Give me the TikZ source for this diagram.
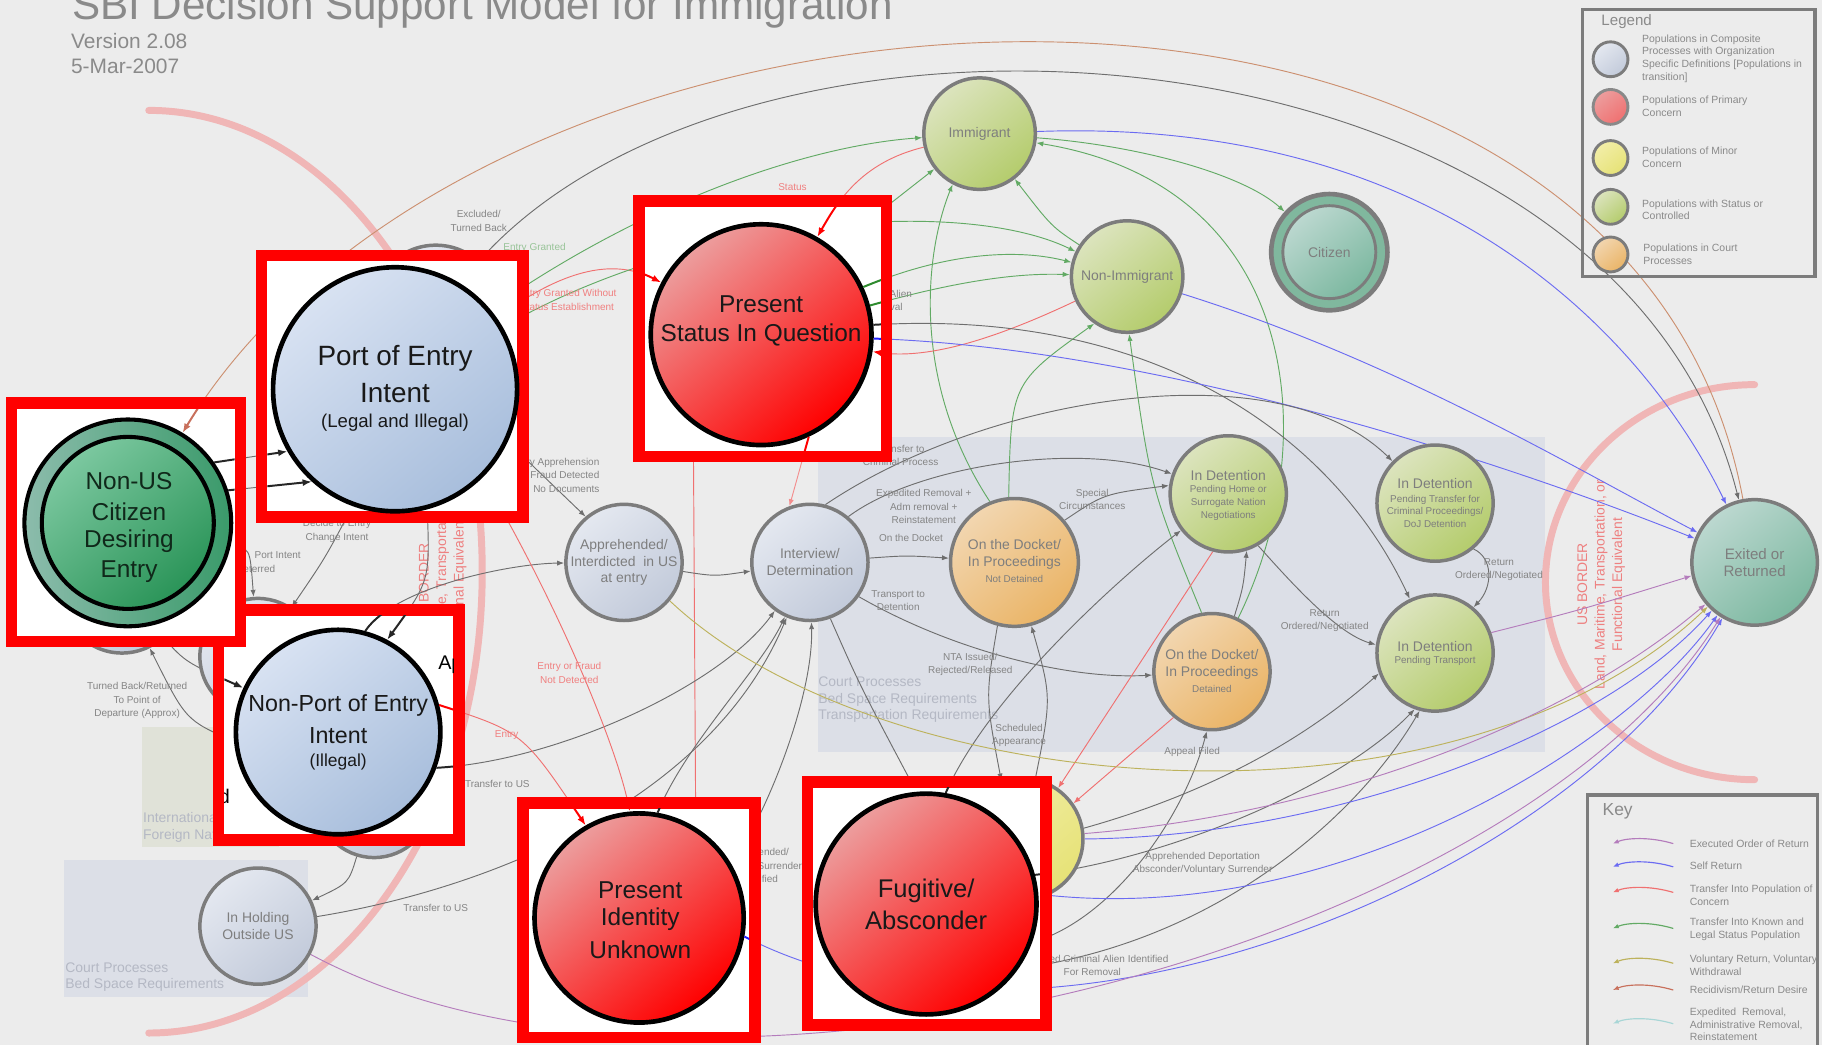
\documentclass[tikz,border=0pt]{standalone}
\usepackage{fontspec}
\setmainfont{Liberation Sans}
\usetikzlibrary{arrows.meta}
\pgfdeclarelayer{back}
\pgfdeclarelayer{bg}
\pgfdeclarelayer{fg}
\pgfsetlayers{back,bg,main,fg}
\definecolor{bgc}{HTML}{ECECEC}
\definecolor{courtf}{HTML}{DCDFE7}
\definecolor{intlf}{HTML}{E0E2D8}
\definecolor{courtt}{HTML}{B4B8C4}
\definecolor{bordc}{HTML}{F0B6B6}
\definecolor{bordt}{HTML}{EE8080}
\definecolor{ngrey}{HTML}{7C7C7C}
\definecolor{ntext}{HTML}{7E7E7E}
\definecolor{labgrey}{HTML}{858585}
\definecolor{lgrey}{HTML}{6E6E6E}
\definecolor{cblue}{HTML}{6B6BF2}
\definecolor{cgreen}{HTML}{62AA64}
\definecolor{cred}{HTML}{F07070}
\definecolor{cpurple}{HTML}{B47CBC}
\definecolor{colive}{HTML}{BDB25C}
\definecolor{cbrown}{HTML}{CC9070}
\definecolor{cbrownred}{HTML}{C8705C}
\definecolor{cteal}{HTML}{A8D6D6}
\definecolor{redlab}{HTML}{F08080}
\definecolor{greenlab}{HTML}{98C498}
\definecolor{titlec}{HTML}{8A8A8A}
\definecolor{compA}{HTML}{E4E8F0}
\definecolor{compB}{HTML}{C2CADA}
\definecolor{grnA}{HTML}{DCE4BE}
\definecolor{grnB}{HTML}{B4CC6C}
\definecolor{orA}{HTML}{F2D6B0}
\definecolor{orB}{HTML}{EAB466}
\definecolor{yeA}{HTML}{F2EEA8}
\definecolor{yeB}{HTML}{E6E276}
\definecolor{teA}{HTML}{BCD8D0}
\definecolor{teB}{HTML}{7CB8A0}
\definecolor{citring}{HTML}{80B89E}
\definecolor{rdA}{HTML}{EC9E9E}
\definecolor{rdM}{HTML}{F65050}
\definecolor{blA}{HTML}{D8E2F2}
\definecolor{blB}{HTML}{A8BEDC}
\definecolor{nuA}{HTML}{7CC8A0}
\definecolor{nuB}{HTML}{2A9458}
\definecolor{nuring}{HTML}{3A9A6A}
\definecolor{nuringA}{HTML}{8CBCAC}
\definecolor{nutext}{HTML}{10281A}
\definecolor{legt}{HTML}{8A8A8A}
\definecolor{dgreen}{HTML}{2E8B2E}
\definecolor{dblue}{HTML}{2020FF}

\def\pthA{(exit) .. controls (1400,-110) and (420,-60) .. (nonus)}
\def\pthB{(imm) .. controls (740,140) and (720,175) .. (pstat)}
\def\pthC{(pstat.50) .. controls (760,180) .. (imm)}
\def\pthD{(pstat.25) .. controls (820,215) and (880,215) .. (nonimm)}
\def\pthDD{(pstat.15) .. controls (830,240) and (880,235) .. (nonimm)}
\def\pthE{(nonimm) .. controls (860,290) and (800,310) .. (pstat)}
\def\pthF{(pstat.5) .. controls (1000,265) and (1150,380) .. (dtrans)}
\def\pthG{(pstat) .. controls (1000,300) and (1300,400) .. (exit)}
\def\pthH{(pstat.-65) -- (intv.110)}
\def\pthI{(pid.58) -- (pstat.233)}
\def\pthJ{(poe.35) .. controls (500,220) and (540,228) .. (pstat)}
\def\pthK{(poe.40) .. controls (560,170) and (700,125) .. (imm)}
\def\pthL{(poe.30) .. controls (600,185) and (830,170) .. (nonimm)}
\def\pthM{(poe.-25) -- (appr.130)}
\def\pthN{(nonus.35) -- (poe.210)}
\def\pthNN{(nonus.18) -- (poe.228)}
\def\pthO{(nonus.-15) .. controls (215,470) .. (hid2)}
\def\pthP{(poe.-110) .. controls (280,480) .. (hid2)}
\def\pthQ{(npoe.75) .. controls (340,505) and (440,485) .. (appr)}
\def\pthR{(npoe.-20) .. controls (480,655) and (620,590) .. (intv)}
\def\pthT{(pid.80) .. controls (590,640) and (655,575) .. (intv)}
\def\pthU{(pid.30) .. controls (660,700) and (700,600) .. (intv)}
\def\pthV{(intv.-70) .. controls (740,590) .. (fug.95)}
\def\pthW{(fug.80) .. controls (850,600) and (960,500) .. (dhome)}
\def\pthX{(fug.-20) .. controls (960,790) and (1020,700) .. (dockd.-95)}
\def\pthY{(fug.15) .. controls (1000,740) and (1150,680) .. (dtrans.-110)}
\def\pthZ{(fug.-35) .. controls (1050,810) and (1170,700) .. (dtrans.-105)}
\def\pthBa{(fug.5) .. controls (1150,800) and (1400,640) .. (exit)}
\def\pthBb{(pid.-10) .. controls (900,940) and (1350,760) .. (exit)}
\def\pthBc{(npoe.15) .. controls (450,630) .. (pid.120)}
\def\pthBd{(poe.-45) .. controls (480,520) and (530,640) .. (pid.95)}
\def\pthBe{(npoe.185) .. controls (160,620) .. (hid3)}
\def\pthBf{(hid3) .. controls (160,570) .. (npoe.155)}
\def\pthBg{(poe.-75) .. controls (370,500) .. (npoe.62)}

\begin{document}
\begin{tikzpicture}[x=1pt,y=-1pt,
  fsz/.style 2 args={font=\fontsize{#1}{#2}\selectfont},
  conn/.style={line width=0.8pt},
  arr/.style={-{Latex[length=6pt,width=4.5pt]}},
  stb/.style={line width=1.7pt,-{Latex[length=8pt,width=6pt]}},
  compn/.style={circle, draw=ngrey, line width=3pt, inner sep=0pt, top color=compA, bottom color=compB, shading angle=40},
  greenn/.style={circle, draw=ngrey, line width=3pt, inner sep=0pt, top color=grnA, bottom color=grnB, shading angle=40},
  orangen/.style={circle, draw=ngrey, line width=3pt, inner sep=0pt, top color=orA, bottom color=orB, shading angle=40},
  yellown/.style={circle, draw=ngrey, line width=3pt, inner sep=0pt, top color=yeA, bottom color=yeB, shading angle=40},
  tealn/.style={circle, draw=ngrey, line width=3pt, inner sep=0pt, top color=teA, bottom color=teB, shading angle=40},
  rbox/.style={draw=red, line width=10pt, fill=white},
  bcirc/.style={circle, draw=black, line width=4pt, inner sep=0pt},
  redfill/.style={top color=rdA, middle color=rdM, bottom color=red, shading angle=40},
  bluefill/.style={top color=blA, bottom color=blB, shading angle=40},
  ntxt/.style={text=ntext, align=center, inner sep=0pt, fsz={12}{14.5}},
  nsmall/.style={text=ntext, align=center, inner sep=0pt, fsz={8.5}{11}},
  elabel/.style={text=labgrey, align=center, inner sep=0pt, fsz={8.6}{11.5}},
  btxt/.style={text=black!90, inner sep=0pt},
  courttxt/.style={text=courtt, align=left, inner sep=0pt, fsz={12}{14.5}},
  bordarc/.style={draw=bordc, line width=6pt, line cap=round},
  bordtxt/.style={text=bordt, align=center, inner sep=0pt, fsz={12}{15}},
  legc/.style={circle, draw=ngrey!90, line width=2.5pt, inner sep=0pt, minimum size=30pt},
  legtxt/.style={text=legt, align=left, inner sep=0pt, fsz={9}{11}, anchor=west},
  keyarr/.style={line width=1pt,-{Latex[length=5pt,width=4pt]}}
]
\useasboundingbox (0,0) rectangle (1568,899.3);

% ---------------- background -----------------
\begin{pgfonlayer}{back}
\fill[bgc] (0,0) rectangle (1568,899.3);
\fill[courtf] (704,376) rectangle (1330,647);
\fill[courtf] (55,740) rectangle (265,858);
\fill[intlf] (122,626) rectangle (240,729);
\node[courttxt, anchor=north west] at (704,582) {Court Processes\\Bed Space Requirements\\Transportation Requirements};
\node[courttxt, anchor=north west] at (56,828) {Court Processes\\Bed Space Requirements};
\node[courttxt, anchor=north west] at (123,699) {International\\Foreign Nationals};
\draw[bordarc] (128,95) arc[start angle=-90,end angle=90,x radius=287,y radius=397];
\draw[bordarc] (1510,331) arc[start angle=-90,end angle=-270,x radius=180,y radius=170];
\node[bordtxt, rotate=90] at (1378,503) {US BORDER\\Land, Maritime, Transportation, or\\Functional Equivalent};
\node[bordtxt, rotate=90] at (381,503) {US BORDER\\Land, Maritime, Transportation, or\\Functional Equivalent};
\end{pgfonlayer}

% ---------------- title -----------------
\node[anchor=base west, inner sep=0, text=titlec, fsz={36.3}{40}] (title) at (62,17) {SBI Decision Support Model for Immigration};
\node[anchor=base west, inner sep=0, text=titlec, fsz={18}{20}] (ver) at (61,41.6) {Version 2.08};
\node[anchor=base west, inner sep=0, text=titlec, fsz={18}{20}] (date) at (61,63) {5-Mar-2007};

% ---------------- ordinary nodes -----------------
\node[greenn, minimum size=96pt] (imm) at (843,115) {};
\node[ntxt] at (imm) {Immigrant};
\node[greenn, minimum size=96pt] (nonimm) at (970,238) {};
\node[ntxt] at (nonimm) {Non-Immigrant};
\node[circle, draw=ngrey, line width=4pt, fill=citring, minimum size=100pt, inner sep=0pt] (cit) at (1144,217) {};
\node[tealn, line width=2.5pt, minimum size=80pt] (citin) at (cit) {};
\node[ntxt] at (cit) {Citizen};
\node[tealn, minimum size=108pt] (exit) at (1510,484) {};
\node[ntxt, fsz={13}{15}] at (exit) {Exited or\\Returned};
\node[compn, minimum size=100pt] (appr) at (537,484) {};
\node[ntxt] at (appr) {Apprehended/\\Interdicted~~in US\\at entry};
\node[compn, minimum size=100pt] (intv) at (697,484) {};
\node[ntxt] at (intv) {Interview/\\Determination};
\node[compn, minimum size=100pt] (hold) at (222,797) {};
\node[ntxt] at (hold) {In Holding\\Outside US};
\node[orangen, minimum size=110pt] (dockn) at (873,484) {};
\node[ntxt] at (873,477) {On the Docket/\\In Proceedings};
\node[nsmall] at (873,498) {Not Detained};
\node[greenn, minimum size=100pt] (dhome) at (1057,425) {};
\node[ntxt] at (1057,409) {In Detention};
\node[nsmall] at (1057,433) {Pending Home or\\Surrogate Nation\\Negotiations};
\node[greenn, minimum size=100pt] (dcrim) at (1235,433) {};
\node[ntxt] at (1235,416) {In Detention};
\node[nsmall] at (1235,440) {Pending Transfer for\\Criminal Proceedings/\\DoJ Detention};
\node[greenn, minimum size=100pt] (dtrans) at (1235,562) {};
\node[ntxt] at (1235,556) {In Detention};
\node[nsmall] at (1235,569) {Pending Transport};
\node[orangen, minimum size=100pt] (dockd) at (1043,578) {};
\node[ntxt] at (1043,572) {On the Docket/\\In Proceedings};
\node[nsmall] at (1043,593) {Detained};
\node[yellown, minimum size=104pt] (minor) at (880,722) {};
\node[compn, minimum size=110pt] (hid1) at (375,266) {};
\node[compn, minimum size=100pt] (hid2) at (222,565) {};
\node[compn, minimum size=104pt] (hid3) at (105,510) {};
\node[compn, minimum size=100pt] (hid4) at (322,688) {};

% ---------------- boxed nodes -----------------
\begin{pgfonlayer}{fg}
\draw[rbox] (225,220) rectangle (450,445);
\node[bcirc, bluefill, minimum size=210pt] (poe) at (340,335) {};
\draw[rbox] (550,173) rectangle (763,393);
\node[bcirc, redfill, minimum size=190pt] (pstat) at (655,288) {};
\draw[rbox] (188,525) rectangle (395,723);
\node[bcirc, bluefill, minimum size=176pt] (npoe) at (291,630) {};
\draw[rbox] (450,691) rectangle (650,893);
\node[bcirc, redfill, minimum size=180pt] (pid) at (550,790) {};
\draw[rbox] (695,673) rectangle (900,882);
\node[bcirc, redfill, minimum size=190pt] (fug) at (797,778) {};
\end{pgfonlayer}
\begin{pgfonlayer}{fg}
\draw[rbox] (10,347) rectangle (207,552);
\node[circle, draw=black, line width=3.5pt, inner sep=0pt, minimum size=178pt, left color=nuringA, right color=nuring] (nonus) at (110,450) {};
\node[circle, draw=black, line width=3.5pt, inner sep=0pt, minimum size=148pt, top color=nuA, bottom color=nuB, shading angle=40] (nonusin) at (nonus) {};
\end{pgfonlayer}

% ---------------- legend and key -----------------
\draw[ngrey, line width=3pt] (1362,8) rectangle (1562,238);
\node[anchor=west, inner sep=0, text=legt, fsz={13}{15}] (legtitle) at (1378,19) {Legend};
\node[legc, compn, line width=2.5pt, minimum size=30pt] (lg1) at (1386,51) {};
\node[legc, top color=rdA, bottom color=cred, shading angle=40] (lg2) at (1386,92) {};
\node[legc, yellown, line width=2.5pt, minimum size=30pt] (lg3) at (1386,136) {};
\node[legc, greenn, line width=2.5pt, minimum size=30pt] (lg4) at (1386,178) {};
\node[legc, orangen, line width=2.5pt, minimum size=30pt] (lg5) at (1386,219) {};
\node[legtxt] at (1413,50.5) {Populations in Composite\\Processes with Organization\\Specific Definitions [Populations in\\transition]};
\node[legtxt] at (1413,91.5) {Populations of Primary\\Concern};
\node[legtxt] at (1413,135.5) {Populations of Minor\\Concern};
\node[legtxt] at (1413,180.5) {Populations with Status or\\Controlled};
\node[legtxt] at (1414,218.5) {Populations in Court\\Processes};

\draw[ngrey, line width=3pt] (1366,684) rectangle (1564,915);
\node[anchor=west, inner sep=0, text=legt, fsz={15}{17}] (keytitle) at (1379,698) {Key};
\coordinate (ka1) at (1440,726); \coordinate (kb1) at (1388,726);
\coordinate (ka2) at (1440,746); \coordinate (kb2) at (1388,746);
\coordinate (ka3) at (1440,768); \coordinate (kb3) at (1388,768);
\coordinate (ka4) at (1440,799); \coordinate (kb4) at (1388,799);
\coordinate (ka5) at (1440,829); \coordinate (kb5) at (1388,829);
\coordinate (ka6) at (1440,852); \coordinate (kb6) at (1388,852);
\coordinate (ka7) at (1440,881); \coordinate (kb7) at (1388,881);
\draw[keyarr, cpurple] (ka1) .. controls (1420,720) and (1400,721) .. (kb1);
\draw[keyarr, cblue] (ka2) .. controls (1420,740) and (1400,741) .. (kb2);
\draw[keyarr, cred] (ka3) .. controls (1420,762) and (1400,763) .. (kb3);
\draw[keyarr, cgreen] (ka4) .. controls (1420,793) and (1400,794) .. (kb4);
\draw[keyarr, colive] (ka5) .. controls (1420,823) and (1400,824) .. (kb5);
\draw[keyarr, cbrownred] (ka6) .. controls (1420,846) and (1400,847) .. (kb6);
\draw[keyarr, cteal] (ka7) .. controls (1420,875) and (1400,876) .. (kb7);
\node[legtxt] at (1454,726) {Executed Order of Return};
\node[legtxt] at (1454,745) {Self Return};
\node[legtxt] at (1454,770.5) {Transfer Into Population of\\Concern};
\node[legtxt] at (1454,799.5) {Transfer Into Known and\\Legal Status Population};
\node[legtxt] at (1454,831) {Voluntary Return, Voluntary\\Withdrawal};
\node[legtxt] at (1454,852) {Recidivism/Return Desire};
\node[legtxt] at (1454,881.5) {Expedited~~Removal,\\Administrative Removal,\\Reinstatement};

% ---------------- edge labels -----------------
\node[elabel] at (412,190) {Excluded/\\Turned Back};
\node[elabel, text=greenlab] at (460,213) {Entry Granted};
\node[elabel, text=redlab] at (488,258) {Entry Granted Without\\Status Establishment};
\node[elabel, text=redlab] at (682,161) {Status};
\node[elabel, anchor=east] at (785,253) {Criminal Alien};
\node[elabel, anchor=east] at (777,264) {Removal};
\node[elabel, align=right, anchor=east] at (516,409) {Secondary Apprehension\\Fraud Detected\\No Documents};
\node[elabel, anchor=east] at (259,478) {Port Intent};
\node[elabel, anchor=east] at (237,490) {Deterred};
\node[elabel] at (290,457) {Decide to Entry\\Change Intent};
\node[elabel] at (118,603) {Turned Back/Returned\\To Point of\\Departure (Approx)};
\node[elabel, text=redlab] at (490,579) {Entry or Fraud\\Not Detected};
\node[elabel, text=redlab] at (436,633) {Entry};
\node[elabel] at (428,675) {Transfer to US};
\node[elabel] at (375,781) {Transfer to US};
\node[elabel] at (652,745) {Apprehended/\\Voluntary Surrender\\Identified};
\node[elabel] at (775,392) {Transfer to\\Criminal Process};
\node[elabel] at (795,436) {Expedited Removal +\\Adm removal +\\Reinstatement};
\node[elabel] at (784,463) {On the Docket};
\node[elabel] at (940,430) {Special\\Circumstances};
\node[elabel] at (773,517) {Transport to\\Detention};
\node[elabel] at (835,572) {NTA Issued/\\Rejected/Released};
\node[elabel] at (877,633) {Scheduled\\Appearance};
\node[elabel] at (1140,534) {Return\\Ordered/Negotiated};
\node[elabel] at (1290,490) {Return\\Ordered/Negotiated};
\node[elabel] at (1026,647) {Appeal Filed};
\node[elabel] at (1035,743) {Apprehended Deportation\\Absconder/Voluntary Surrender};
\node[elabel] at (940,831) {Convicted Criminal Alien Identified\\For Removal};

% ---------------- connectors -----------------
\begin{pgfonlayer}{bg}
\draw[conn, cbrown, arr] \pthA;
\draw[conn, lgrey, arr] (hid1) .. controls (650,-40) and (1390,10) .. (exit);
\draw[conn, cblue, arr] (imm) .. controls (1250,100) and (1420,300) .. (exit);
\draw[conn, cgreen, arr] (imm) .. controls (980,125) and (1070,150) .. (cit);
\draw[conn, cgreen, arr] (dockd) .. controls (1140,380) and (1120,160) .. (imm);
\draw[conn, cgreen, arr] (dockd.100) .. controls (990,420) .. (nonimm.-88);
\draw[conn, cgreen, arr] (dockn.95) .. controls (870,330) .. (nonimm.-125);
\draw[conn, cgreen, arr] (dockn.112) .. controls (785,330) and (795,220) .. (imm.-118);
\draw[conn, cgreen, arr] (nonimm) .. controls (905,195) .. (imm);
\draw[conn, cblue, arr] (nonimm) .. controls (1200,310) and (1350,400) .. (exit);
\draw[conn, cred, arr] \pthE;
\draw[conn, cgreen, arr] \pthC;
\draw[conn, cgreen, arr] \pthD;
\draw[conn, cgreen, arr] \pthDD;
\draw[conn, cred, arr] \pthB;
\draw[conn, lgrey, arr] \pthF;
\draw[conn, cblue, arr] \pthG;
\draw[conn, cred!80, arr] \pthH;
\draw[conn, cred, arr] \pthI;
\draw[conn, cred, arr] \pthJ;
\draw[conn, cgreen, arr] \pthK;
\draw[conn, cgreen, arr] \pthL;
\draw[conn, lgrey, arr] \pthM;
\draw[conn, lgrey, arr] \pthN;
\draw[conn, lgrey, arr] \pthNN;
\draw[conn, lgrey, arr] \pthO;
\draw[conn, lgrey, arr] \pthP;
\draw[conn, lgrey, arr] \pthQ;
\draw[conn, lgrey, arr] \pthR;
\draw[conn, lgrey, arr] (hold) .. controls (420,765) and (610,690) .. (intv);
\draw[conn, lgrey, arr] \pthT;
\draw[conn, lgrey, arr] \pthU;
\draw[conn, lgrey, arr] (appr) .. controls (615,496) .. (intv);
\draw[conn, lgrey, arr] (intv) .. controls (780,478) .. (dockn);
\draw[conn, lgrey, arr] (intv.50) .. controls (790,400) and (930,380) .. (dhome);
\draw[conn, lgrey, arr] (intv.75) .. controls (850,340) and (1100,300) .. (dcrim);
\draw[conn, lgrey, arr] (dockn.40) .. controls (950,425) .. (dhome.172);
\draw[conn, lgrey, arr] (intv.-35) .. controls (820,560) and (920,585) .. (dockd);
\draw[conn, lgrey, arr] (dockn.-105) .. controls (848,600) .. (minor.110);
\draw[conn, lgrey, arr] (minor.78) .. controls (905,600) .. (dockn.-75);
\draw[conn, lgrey, arr] \pthW;
\draw[conn, lgrey, arr] \pthV;
\draw[conn, lgrey, arr] (dockd.68) .. controls (1070,505) .. (dhome.-72);
\draw[conn, lgrey, arr] (dhome.-60) .. controls (1110,500) and (1150,545) .. (dtrans.172);
\draw[conn, lgrey, arr] (dcrim.-50) .. controls (1285,480) and (1285,505) .. (dtrans.50);
\draw[conn, cpurple, arr] (dtrans.20) .. controls (1360,525) .. (exit.192);
\draw[conn, cred, arr] (dhome.-105) -- (minor.55);
\draw[conn, cred, arr] (dockd.-130) -- (minor.35);
\draw[conn, lgrey, arr] \pthX;
\draw[conn, lgrey, arr] \pthY;
\draw[conn, lgrey, arr] \pthZ;
\draw[conn, lgrey, arr] (minor.10) .. controls (1050,680) and (1130,630) .. (dtrans.200);
\draw[conn, colive, arr] (appr.-40) .. controls (760,690) and (1250,730) .. (exit);
\draw[conn, cpurple, arr] (minor.5) .. controls (1150,700) and (1350,620) .. (exit);
\draw[conn, cblue, arr] (minor.0) .. controls (1150,720) and (1380,630) .. (exit);
\draw[conn, cblue, arr] \pthBa;
\draw[conn, cblue, arr] \pthBb;
\draw[conn, cpurple, arr] (hold) .. controls (600,1000) and (1300,820) .. (exit);
\draw[conn, cred, arr] \pthBc;
\draw[conn, cred, arr] \pthBd;
\draw[conn, lgrey, arr] \pthBe;
\draw[conn, lgrey, arr] \pthBf;
\draw[conn, lgrey, arr] \pthBg;
\draw[conn, lgrey, arr] (hid4) .. controls (300,760) .. (hold);
\end{pgfonlayer}

% ---------------- stubs inside boxes -----------------
\begin{pgfonlayer}{fg}
% poe box
\begin{scope}
\clip (230,225) rectangle (445,440);
\draw[stb, black!85] \pthN;
\draw[stb, black!85] \pthNN;
\end{scope}
% pstat box
\begin{scope}
\clip (555,178) rectangle (758,388);
\draw[stb, red] \pthB;
\draw[stb, dgreen] \pthD;
\draw[stb, dgreen] \pthDD;
\draw[stb, red] \pthE;
\draw[stb, black!85] \pthF;
\draw[stb, dblue] \pthG;
\draw[stb, red] \pthH;
\draw[stb, red] \pthJ;
\end{scope}
% npoe box
\begin{scope}
\clip (193,530) rectangle (390,718);
\draw[stb, black!85] \pthQ;
\draw[stb, black!85] \pthR;
\draw[stb, red] \pthBc;
\draw[stb, black!85] \pthBf;
\draw[stb, black!85] \pthBg;
\node[anchor=west, inner sep=0, text=black, fsz={17}{17}] at (377,572) {Apprehended};
\node[anchor=east, inner sep=0, text=black, fsz={17}{17}] at (198,685) {Found};
\end{scope}
% pid box
\begin{scope}
\clip (455,696) rectangle (645,888);
\draw[stb, red] \pthBc;
\draw[stb, red] \pthBd;
\draw[stb, black!85] \pthT;
\draw[stb, dblue] \pthBb;
\end{scope}
% fug box
\begin{scope}
\clip (700,678) rectangle (895,877);
\draw[stb, black!85] \pthW;
\draw[stb, black!85] \pthY;
\end{scope}
% nonus box
\begin{scope}
\clip (15,352) rectangle (202,547);
\draw[stb, cbrownred] \pthA;
\draw[stb, black!85] \pthN;
\draw[stb, black!85] \pthNN;
\draw[stb, black!85] \pthBe;
\end{scope}
% texts of boxed nodes
\node[btxt, fsz={24}{24}] at (340,308) {Port of Entry};
\node[btxt, fsz={24}{24}] at (340,338) {Intent};
\node[btxt, fsz={16}{16}] at (340,364) {(Legal and Illegal)};
\node[btxt, fsz={21}{21}] at (655,262) {Present};
\node[btxt, fsz={21}{21}] at (655,288) {Status In Question};
\node[btxt, fsz={20}{20}] at (291,607) {Non-Port of Entry};
\node[btxt, fsz={20}{20}] at (291,633) {Intent};
\node[btxt, fsz={15}{15}] at (291,656) {(Illegal)};
\node[btxt, fsz={21}{21}] at (551,766) {Present};
\node[btxt, fsz={21}{21}] at (551,791) {Identity};
\node[btxt, fsz={21}{21}] at (551,817) {Unknown};
\node[btxt, fsz={22}{22}] at (797,767) {Fugitive/};
\node[btxt, fsz={22}{22}] at (797,792) {Absconder};
\node[btxt, text=nutext, fsz={21}{21}] at (111,414) {Non-US};
\node[btxt, text=nutext, fsz={21}{21}] at (111,440) {Citizen};
\node[btxt, text=nutext, fsz={21}{21}] at (111,466) {Desiring};
\node[btxt, text=nutext, fsz={21}{21}] at (111,492) {Entry};
\end{pgfonlayer}
\end{tikzpicture}
\end{document}
